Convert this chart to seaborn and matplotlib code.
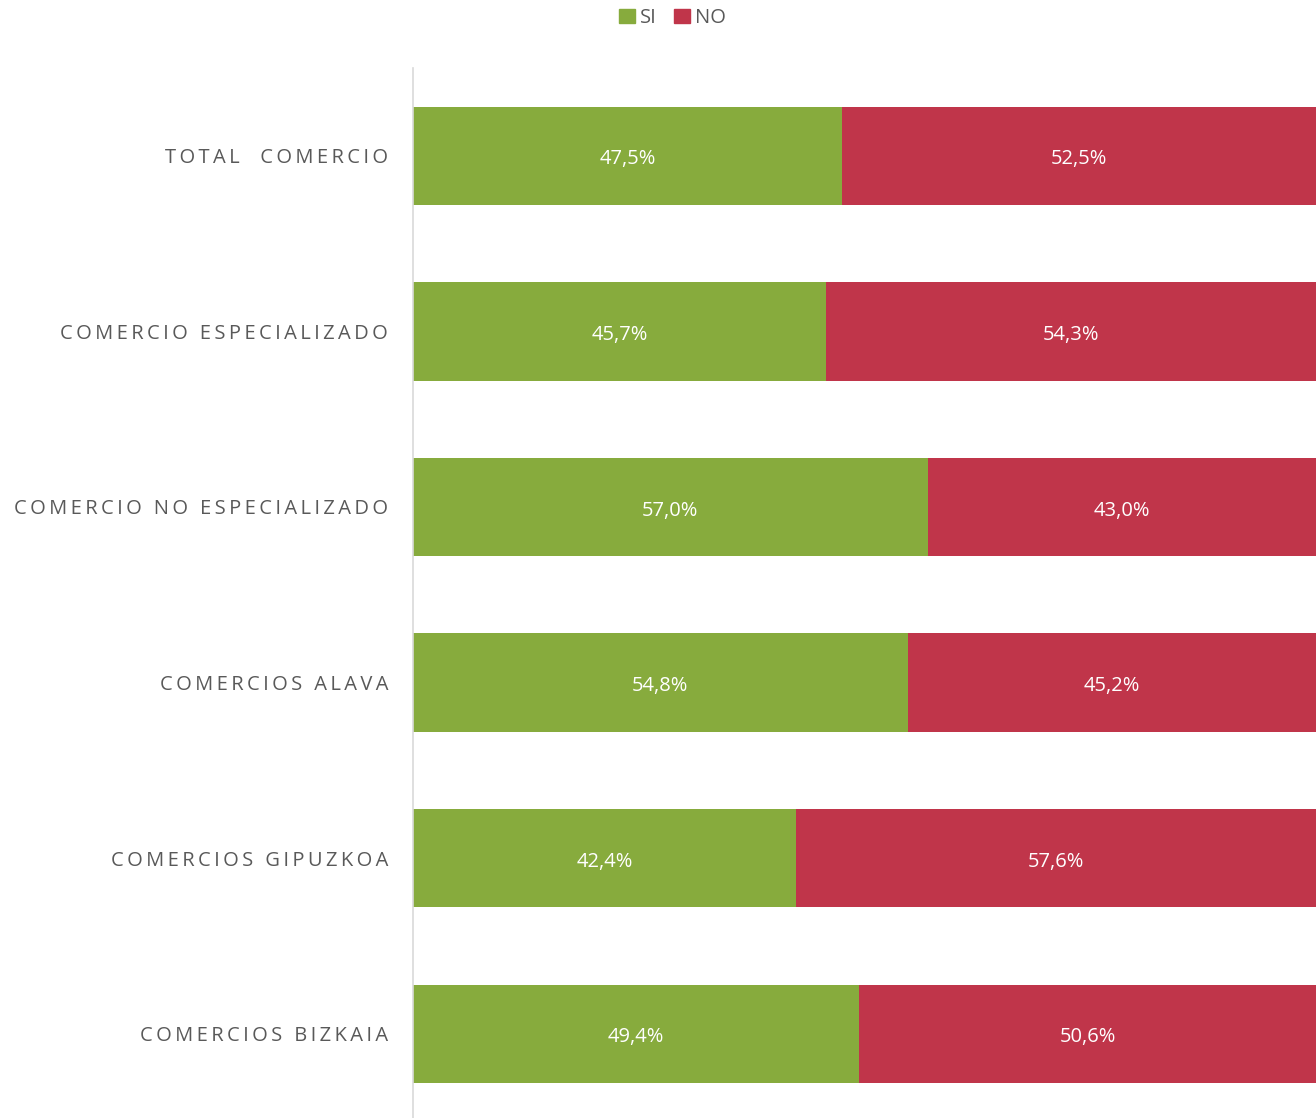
import matplotlib
matplotlib.use("Agg")
import matplotlib.pyplot as plt
from matplotlib.patches import Patch
import seaborn as sns
import pandas as pd

# Datos del gráfico
categorias = [
    "TOTAL  COMERCIO",
    "COMERCIO ESPECIALIZADO",
    "COMERCIO NO ESPECIALIZADO",
    "COMERCIOS ALAVA",
    "COMERCIOS GIPUZKOA",
    "COMERCIOS BIZKAIA",
]
si_valores = [47.5, 45.7, 57.0, 54.8, 42.4, 49.4]
no_valores = [52.5, 54.3, 43.0, 45.2, 57.6, 50.6]

COLOR_SI = "#87AB3D"
COLOR_NO = "#C0354A"
GRIS = "#595959"


def espaciado(texto):
    # imita el espaciado entre letras del original con espacios finos
    return "\u2009".join(texto)


df = pd.DataFrame({"cat": categorias, "SI": si_valores, "NO": no_valores})
df["total"] = df["SI"] + df["NO"]

sns.set_style("white")
plt.rcParams["font.family"] = ["Open Sans", "DejaVu Sans"]

fig = plt.figure(figsize=(13.16, 11.18), dpi=100)
alto = 6 * 175.6 / 1118
ax = fig.add_axes([413 / 1316, 1 - 68 / 1118 - alto, (1316 - 413) / 1316, alto])

# barra completa (NO) y encima la parte SI
sns.barplot(data=df, x="total", y="cat", color=COLOR_NO, width=0.56,
            saturation=1, ax=ax, orient="h", linewidth=0)
sns.barplot(data=df, x="SI", y="cat", color=COLOR_SI, width=0.56,
            saturation=1, ax=ax, orient="h", linewidth=0)

for i, row in df.iterrows():
    ax.text(row["SI"] / 2, i + 0.02, f"{row['SI']:.1f}%".replace(".", ","),
            ha="center", va="center", color="white", fontsize=14.5)
    ax.text(row["SI"] + row["NO"] / 2, i + 0.02, f"{row['NO']:.1f}%".replace(".", ","),
            ha="center", va="center", color="white", fontsize=14.5)

ax.set_xlim(0, 100)
ax.set_ylim(5.5, -0.5)
ax.set_xlabel("")
ax.set_ylabel("")
ax.set_xticks([])
ax.set_yticks(range(len(categorias)))
ax.set_yticklabels([espaciado(c) for c in categorias])
ax.tick_params(axis="y", length=0, pad=18, labelsize=14.5, labelcolor=GRIS)
for s in ["top", "right", "bottom"]:
    ax.spines[s].set_visible(False)
ax.spines["left"].set_color("#D9D9D9")
ax.spines["left"].set_linewidth(1.2)

handles = [Patch(color=COLOR_SI, label="SI"), Patch(color=COLOR_NO, label="NO")]
fig.legend(handles=handles, loc="center", bbox_to_anchor=(0.511, 1 - 18 / 1118),
           ncol=2, frameon=False, fontsize=14.5, handlelength=0.75, handleheight=0.75,
           handletextpad=0.25, columnspacing=0.9, labelcolor=GRIS)

fig.savefig("out.png", dpi=100)
